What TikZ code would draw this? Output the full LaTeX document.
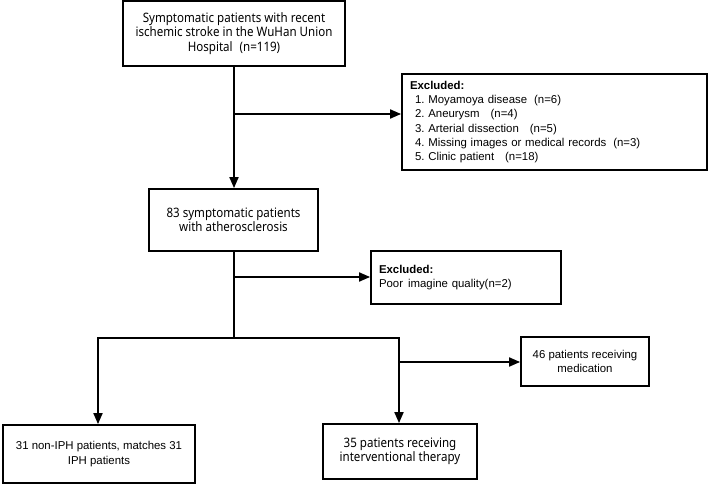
\documentclass[tikz,border=0pt]{standalone}
\usepackage{fontspec}
\setmainfont{Liberation Sans}
\newfontfamily\arialf{Liberation Sans}
\newfontfamily\humf{Noto Sans}[FakeStretch=0.89]
\usetikzlibrary{arrows.meta,positioning}
\frenchspacing
\begin{document}
\begin{tikzpicture}[x=1pt,y=1pt,
  every path/.style={line width=1.8pt},
  humbox/.style={draw, line width=1.8pt, align=center, inner sep=0pt,
    font=\humf\fontsize{13}{14.5}\selectfont},
  arbox/.style={draw, line width=1.8pt, align=center, inner sep=0pt,
    font=\arialf\fontsize{11.4}{14.2}\selectfont},
  exbox/.style={draw, line width=1.8pt, align=left, inner xsep=8pt, inner ysep=0pt,
    font=\arialf\fontsize{11.4}{14.2}\selectfont},
  arr/.style={-{Triangle[length=11pt,width=9pt]}, line width=1.8pt},
  line join=miter]
\useasboundingbox (0,0) rectangle (708,-484);

\node[humbox, minimum width=222pt, minimum height=65pt] (top) at (234,-33.5)
  {Symptomatic patients with recent\\ischemic stroke in the WuHan Union\\Hospital\hspace{7pt}(n=119)};

\node[exbox, minimum width=305pt, minimum height=96pt, text width=289pt] (ex1) at (554.5,-122)
  {\textbf{Excluded:}\\
   \hspace{5pt}1. Moyamoya disease\hspace{7pt}(n=6)\\
   \hspace{5pt}2. Aneurysm\hspace{11pt}(n=4)\\
   \hspace{5pt}3. Arterial dissection\hspace{11pt}(n=5)\\
   \hspace{5pt}4. Missing images or medical records\hspace{7pt}(n=3)\\
   \hspace{5pt}5. Clinic patient\hspace{11pt}(n=18)\\ {}};

\node[humbox, minimum width=169pt, minimum height=62pt] (b2) at (233.5,-220)
  {83 symptomatic patients\\with atherosclerosis};

\node[exbox, minimum width=190pt, minimum height=53pt, text width=174pt] (ex2) at (466,-277.5)
  {\textbf{Excluded:}\\Poor\hspace{5pt}imagine quality(n=2)};

\node[arbox, minimum width=192pt, minimum height=58pt] (left) at (99,-454)
  {31 non-IPH patients, matches 31\\IPH patients};

\node[humbox, minimum width=154pt, minimum height=55pt] (mid) at (400,-451.5)
  {35 patients receiving\\interventional therapy};

\node[arbox, minimum width=128pt, minimum height=49pt] (med) at (585,-361.5)
  {46 patients receiving\\medication};

\coordinate (j1) at (234,-114);
\coordinate (j2) at (234,-277);
\coordinate (split) at (234,-338);
\coordinate (lc) at (98,-338);
\coordinate (mc) at (399,-338);
\coordinate (j3) at (399,-362);

\draw[arr] (top.south -| j1) -- (j1 |- b2.north);
\draw[arr] (j1) -- (j1 -| ex1.west);
\draw (b2.south -| split) -- (split);
\draw[arr] (j2) -- (j2 -| ex2.west);
\draw[arr] (split) -- (lc) -- (lc |- left.north);
\draw[arr] (split) -- (mc) -- (mc |- mid.north);
\draw[arr] (j3) -- (j3 -| med.west);
\end{tikzpicture}
\end{document}
